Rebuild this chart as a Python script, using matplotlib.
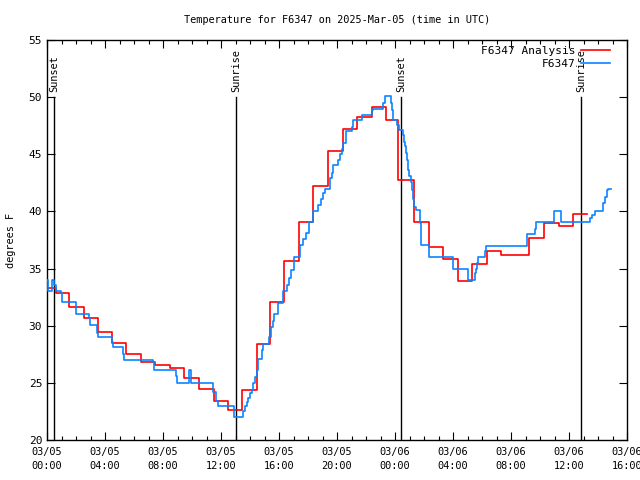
import numpy as np
import matplotlib
matplotlib.use("Agg")
import matplotlib.pyplot as plt

# hours since 2025-03-05 00:00 UTC
# analysis (hourly) : start time of each step, value
ana_t = [0.00, 0.62, 1.55, 2.52, 3.52, 4.48, 5.45, 6.48, 7.45, 8.48, 9.45,
         10.48, 11.52, 12.48, 13.45, 14.45, 15.38, 16.34, 17.38, 18.34, 19.38,
         20.41, 21.38, 22.41, 23.38, 24.24, 25.30, 26.34, 27.31, 28.34, 29.31,
         30.34, 31.31, 33.24, 34.28, 35.31, 36.28, 37.24]
ana_v = [33.3, 32.9, 31.6, 30.7, 29.45, 28.5, 27.5, 26.8, 26.6, 26.3, 25.4,
         24.5, 23.4, 22.6, 24.4, 28.4, 32.1, 35.7, 39.1, 42.2, 45.3,
         47.2, 48.3, 49.1, 48.0, 42.75, 39.1, 36.9, 35.8, 33.9, 35.4,
         36.5, 36.2, 37.7, 39.0, 38.7, 39.8, 39.8]

# station observations
obs_t = [0.00, 0.09, 0.32, 0.48, 0.60, 0.94, 1.06, 2.00, 2.90, 2.97, 3.45,
         3.54, 4.50, 4.57, 5.26, 5.33, 7.33, 7.38, 8.88, 8.99, 9.81, 9.93,
         11.47, 11.66, 11.77, 12.92, 13.54, 13.66, 13.77, 13.88, 14.00, 14.12,
         14.23, 14.34, 14.46, 14.57, 14.81, 14.92, 15.33, 15.43, 15.57, 15.68,
         15.91, 16.30, 16.57, 16.69, 16.81, 17.06, 17.45, 17.68, 17.86, 18.09,
         18.32, 18.71, 18.88, 19.01, 19.17, 19.52, 19.63, 19.74, 20.09, 20.21,
         20.32, 20.43, 20.60, 21.01, 21.12, 21.70, 22.39, 22.50, 23.15, 23.31,
         23.70, 23.77, 23.84, 24.16, 24.31, 24.53, 24.62, 24.69, 24.76, 24.85,
         24.92, 24.97, 25.08, 25.15, 25.22, 25.31, 25.43, 25.72, 25.77, 26.34,
         28.02, 29.00, 29.52, 29.59, 29.68, 29.74, 30.21, 30.28, 33.08, 33.12,
         33.68, 33.70, 34.97, 35.48, 37.45, 37.59, 37.79, 38.37, 38.48, 38.60,
         38.72, 38.90]
obs_v = [34.0, 33.0, 34.0, 33.6, 33.0, 32.9, 32.1, 31.0, 30.7, 30.1, 29.4,
         29.0, 28.6, 28.1, 27.5, 27.0, 26.8, 26.1, 25.6, 25.0, 26.1, 25.0,
         24.2, 23.4, 23.0, 22.0, 22.5, 23.0, 23.3, 23.7, 24.1, 24.4,
         25.0, 25.5, 26.1, 27.1, 27.9, 28.4, 29.0, 29.9, 30.4, 31.0,
         32.0, 33.0, 33.6, 34.2, 34.9, 36.0, 37.1, 37.6, 38.1, 39.1,
         40.0, 40.6, 41.1, 41.6, 42.0, 42.9, 43.4, 44.1, 44.5, 45.0,
         45.5, 46.0, 47.0, 47.4, 48.0, 48.4, 48.9, 49.0, 49.5, 50.1,
         49.5, 48.9, 48.0, 47.6, 47.1, 46.7, 46.1, 45.7, 45.1, 44.5,
         43.6, 43.1, 42.6, 41.9, 41.1, 40.4, 40.1, 39.0, 37.1, 36.0,
         35.0, 34.0, 34.6, 35.0, 35.5, 36.0, 36.5, 37.0, 37.5, 38.0,
         38.5, 39.1, 40.0, 39.1, 39.4, 39.7, 40.0, 40.7, 41.3, 41.9,
         42.0, 42.0]

sun_t = [0.48, 13.03, 24.41, 36.83]
sun_lbl = ["Sunset", "Sunrise", "Sunset", "Sunrise"]

xtick_h = [0, 4, 8, 12, 16, 20, 24, 28, 32, 36, 40]
xtick_lbl = ["03/05\n00:00", "03/05\n04:00", "03/05\n08:00", "03/05\n12:00",
             "03/05\n16:00", "03/05\n20:00", "03/06\n00:00", "03/06\n04:00",
             "03/06\n08:00", "03/06\n12:00", "03/06\n16:00"]

plt.rcParams['font.family'] = ['DejaVu Sans Mono']
fs = 7.4

fig = plt.figure(figsize=(6.4, 4.8), dpi=100)
ax = fig.add_axes([47/640, 40/480, 580/640, 400/480])

for t, lbl in zip(sun_t, sun_lbl):
    ax.plot([t, t], [20, 50], color='black', lw=1.0, zorder=1)
    ax.text(t, 50.45, lbl, rotation=90, ha='center', va='bottom', fontsize=fs)

ax.step(ana_t, ana_v, where='post', color='#ff0000', lw=1.2, label='F6347 Analysis', zorder=2)
ax.step(obs_t, obs_v, where='post', color='#0a84ff', lw=1.2, label='F6347', zorder=3)

ax.set_xlim(0, 40)
ax.set_ylim(20, 55)
ax.set_xticks(xtick_h)
ax.set_xticklabels(xtick_lbl, fontsize=fs, linespacing=1.45)
ax.set_xticks(np.arange(0, 41, 1), minor=True)
ax.set_yticks([20, 25, 30, 35, 40, 45, 50, 55])
ax.tick_params(axis='y', labelsize=fs + 0.6)
ax.tick_params(which='both', direction='in', top=True, right=True, width=0.8)
ax.tick_params(which='major', length=6)
ax.tick_params(which='minor', length=3)
ax.tick_params(axis='x', pad=5)
for s in ax.spines.values():
    s.set_linewidth(1.0)

ax.set_ylabel('degrees F', fontsize=fs, labelpad=9)
ax.set_title('Temperature for F6347 on 2025-Mar-05 (time in UTC)', fontsize=fs, pad=12)

leg = ax.legend(loc='upper right', bbox_to_anchor=(0.971, 0.986), frameon=False,
                fontsize=fs + 0.6, markerfirst=False, handlelength=2.6,
                handletextpad=0.55, borderaxespad=0, borderpad=0,
                labelspacing=0.3)
for txt in leg.get_texts():
    txt.set_ha('right')
leg._legend_box.align = 'right'

fig.savefig('out.png', dpi=100)
